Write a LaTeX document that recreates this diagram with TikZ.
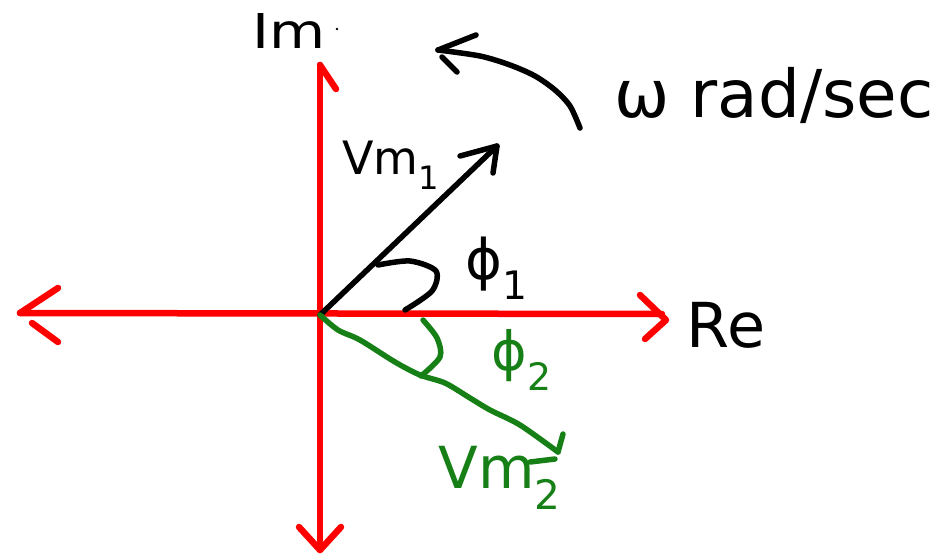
\documentclass[tikz,border=0pt]{standalone}
\usepackage{fontspec}
\setmainfont{DejaVu Sans}
\definecolor{axisred}{RGB}{255,0,0}
\definecolor{phgreen}{RGB}{22,128,22}
\tikzset{
  axis/.style={draw=axisred, line width=6.5pt, line cap=round, line join=round},
  blk/.style={draw=black, line width=5.5pt, line cap=round, line join=round},
  grn/.style={draw=phgreen, line width=5.5pt, line cap=round, line join=round},
  lbl/.style={inner sep=0pt, text=black},
  glbl/.style={inner sep=0pt, text=phgreen}
}
\begin{document}
\begin{tikzpicture}[x=1pt,y=-1pt]
\useasboundingbox (0,0) rectangle (944,554);
% axes
\coordinate (O) at (320,315);
\coordinate (xl) at (20,313);
\coordinate (xr) at (662,314);
\coordinate (xtip) at (666,320);
\coordinate (yt) at (320,65);
\coordinate (yb) at (320,550);
\draw[axis] (xl) -- (xr);
\draw[axis] (yt) -- (yb);
\draw[axis] (58,288) -- (xl);
\draw[axis] (32,323) -- (58,342);
\draw[axis] (640,295) -- (xtip) -- (645,339);
\draw[axis] (yt) -- (336,89);
\draw[axis] (299,527) -- (yb) -- (341,527);
% Vm1 phasor
\coordinate (A1) at (497,146);
\draw[blk] (O) -- (A1);
\draw[blk] (460,156) -- (A1) -- (493,173);
\draw[blk] plot[smooth] coordinates {(378,265) (410,261) (436,271) (432,291) (405,310)};
% Vm2 phasor
\coordinate (A2) at (558,452);
\draw[grn] plot[smooth] coordinates {(O) (338,330) (360,340) (395,362) (420,375) (445,383) (470,398) (490,410) (520,425) (A2)};
\draw[grn] (563,434) -- (A2);
\draw[grn] (530,462) -- (555,459);
\draw[grn] plot[smooth] coordinates {(423,320) (437,338) (440,357) (421,376)};
% rotation arrow
\coordinate (R0) at (580,128);
\coordinate (R1) at (438,50);
\draw[blk] plot[smooth] coordinates {(R0) (570,106) (555,90) (535,76) (510,65) (480,56) (R1)};
\draw[blk] (R1) -- (476,35);
\draw[blk] (442,57) -- (457,72);
% labels
\node[lbl, font=\fontsize{48}{48}\selectfont, xscale=1.2] (im) at (289,31) {Im};
\fill (337,29) circle (1.3pt);
\node[lbl, font=\fontsize{66}{66}\selectfont] (omega) at (774,95) {ω rad/sec};
\node[lbl, font=\fontsize{46}{46}\selectfont] (vm1) at (391,165) {Vm\textsubscript{1}};
\node[lbl, font=\fontsize{56}{56}\selectfont] (phi1) at (497,268) {ϕ\textsubscript{1}};
\node[lbl, font=\fontsize{62}{62}\selectfont] (re) at (726,325) {Re};
\node[glbl, font=\fontsize{54}{54}\selectfont] (phi2) at (522,360) {ϕ\textsubscript{2}};
\node[glbl, font=\fontsize{58}{58}\selectfont] (vm2) at (500,478) {Vm\textsubscript{2}};
\end{tikzpicture}
\end{document}
